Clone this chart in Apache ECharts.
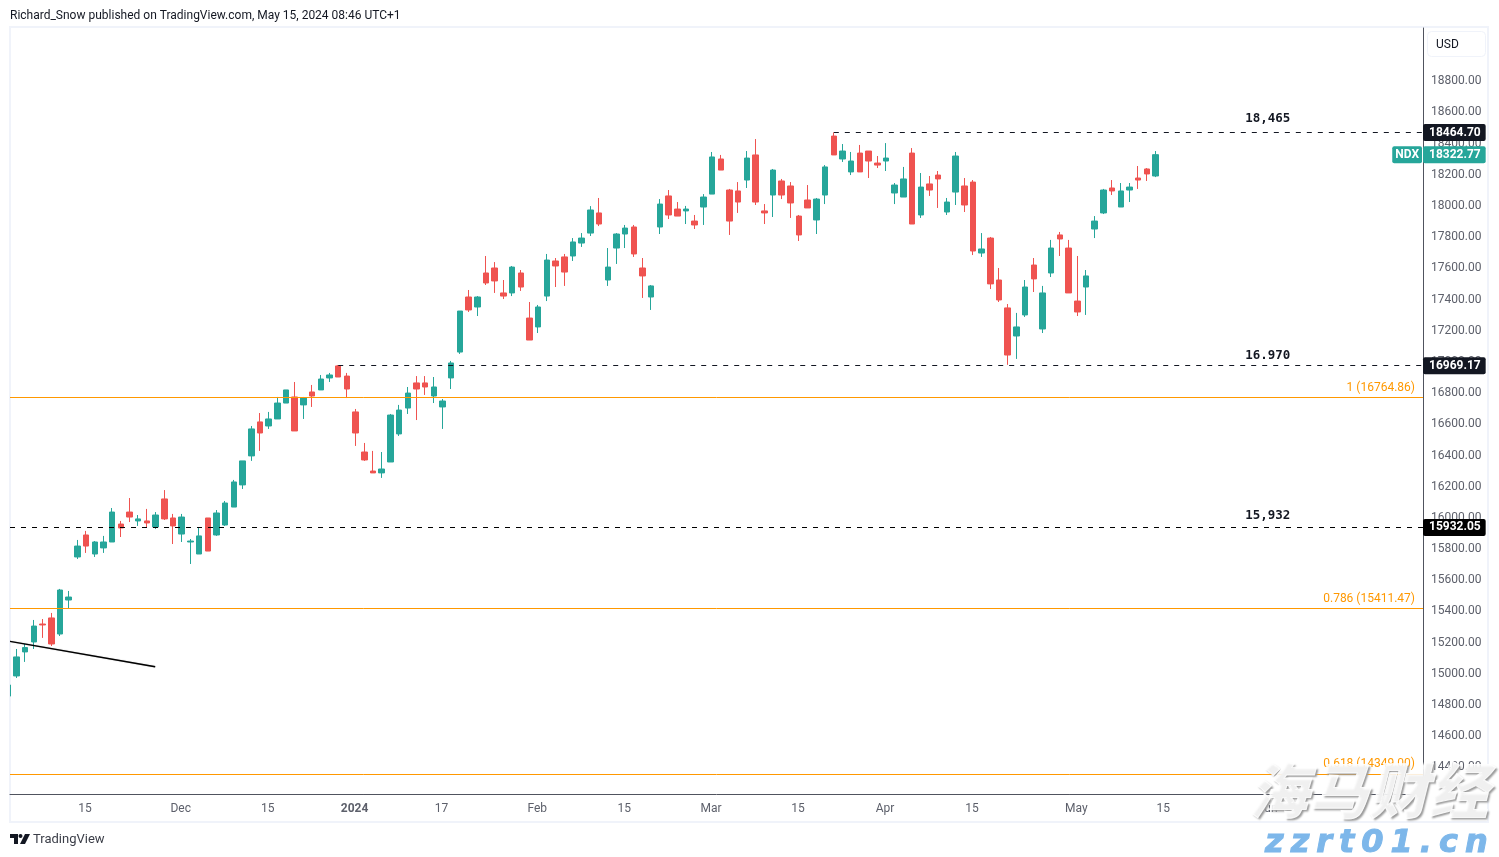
<!DOCTYPE html>
<html>
<head>
<meta charset="utf-8">
<title>NDX</title>
<script src="https://cdn.jsdelivr.net/npm/echarts@6/dist/echarts.min.js"></script>
<style>
    html, body { margin: 0; padding: 0; background: #fff; }
    #main { position: absolute; left: 0; top: 0; width: 1499px; height: 857px; }
    .wm { position: absolute; white-space: nowrap; }
    #wmCn { left: 1248px; top: 743px; font: italic 900 60px "Noto Sans CJK SC"; color: rgba(255,255,255,0.85); -webkit-text-stroke: 1px rgba(255,255,255,0.85); text-shadow: 2px 2px 2px #9a9a9a; }
    #wmEn { left: 1265px; top: 822px; font: italic 900 32px "DejaVu Sans"; letter-spacing: 7px; color: #7db7ea; -webkit-text-stroke: 1px #7db7ea; }
</style>
</head>
<body>
<div id="main"></div>
<div id="wmCn" class="wm">海马财经</div>
<div id="wmEn" class="wm">zzrt01.cn</div>
<script>
// daily candles, index = bar number from the left edge
var opens = [
    14851,14980,15134,15198,15313,15352,15249,15467,15743,15884,
    15762,15801,15839,15954,16031,15974,15974,15935,16115,15993,
    15890,15839,15762,15993,15884,15948,16063,16205,16391,16609,
    16583,16628,16730,16769,16718,16801,16814,16891,16968,16903,
    16673,16416,16294,16282,16352,16532,16698,16859,16859,16775,
    16705,16891,17057,17410,17346,17564,17596,17436,17436,17564,
    17275,17218,17416,17641,17667,17673,17756,17820,17949,17519,
    17724,17814,17859,17596,17410,17859,18058,17974,17962,17897,
    17987,18070,18295,18096,18090,18160,18321,17962,18064,18154,
    18122,17929,18032,17904,18064,18442,18295,18212,18333,18346,
    18269,18282,18077,18051,18333,17936,18135,18192,17955,18083,
    18122,18147,17692,17788,17519,17340,17160,17295,17615,17205,
    17564,17808,17724,17384,17474,17846,17949,18109,17987,18096,
    18173,18231,18186
];
var closes = [
    14922,15102,15162,15300,15307,15185,15531,15486,15813,15813,
    15839,15839,16031,15929,15999,15987,15961,16012,15987,15942,
    15999,15845,15878,15781,16025,16089,16224,16359,16564,16538,
    16628,16730,16814,16551,16762,16775,16884,16910,16897,16820,
    16538,16365,16282,16307,16653,16685,16794,16820,16833,16833,
    16743,16987,17320,17327,17410,17500,17513,17416,17602,17474,
    17134,17346,17647,17609,17570,17763,17788,17968,17878,17602,
    17814,17852,17686,17545,17481,18006,17936,17929,17974,17872,
    18051,18308,18224,17897,18019,18301,18019,17949,18224,18064,
    18013,17808,17981,18038,18244,18321,18346,18282,18212,18282,
    18256,18301,18128,18167,17878,18115,18096,18167,18019,18314,
    18000,17705,17718,17494,17391,17038,17218,17474,17526,17436,
    17724,17782,17436,17314,17545,17897,18096,18090,18090,18115,
    18160,18199,18322.77
];
var lows = [
    14851,14967,15070,15153,15224,15172,15236,15410,15730,15769,
    15743,15769,15839,15871,15967,15942,15929,15922,15980,15826,
    15839,15698,15762,15781,15878,15942,16063,16179,16359,16423,
    16564,16628,16730,16551,16628,16705,16814,16865,16897,16762,
    16455,16359,16282,16250,16352,16519,16660,16621,16782,16730,
    16564,16820,17045,17314,17288,17487,17436,17397,17416,17449,
    17134,17179,17384,17474,17481,17641,17731,17801,17865,17481,
    17622,17724,17667,17404,17327,17814,17910,17929,17878,17846,
    17872,18070,18224,17808,17949,18109,18000,17878,17923,18038,
    17917,17769,17981,17814,18006,18321,18276,18192,18212,18173,
    18237,18218,18006,18051,17878,17917,18058,17981,17936,18000,
    17955,17679,17667,17461,17378,16975,17013,17282,17442,17179,
    17538,17673,17436,17288,17295,17788,17942,18064,17987,18019,
    18103,18154,18179
];
var highs = [
    14922,15153,15185,15339,15345,15384,15538,15525,15852,15910,
    15845,15878,16057,15974,16121,16012,16051,16031,16172,16019,
    16019,15858,15935,15993,16044,16102,16237,16359,16583,16666,
    16673,16769,16814,16865,16769,16846,16910,16923,16974,16923,
    16692,16474,16423,16416,16660,16718,16833,16903,16903,16897,
    16756,17000,17320,17455,17416,17673,17634,17519,17609,17583,
    17378,17359,17686,17660,17686,17788,17820,17993,18045,17724,
    17820,17872,17872,17660,17487,18038,18096,18019,17994,17936,
    18070,18340,18321,18103,18147,18346,18423,18006,18231,18167,
    18147,17936,18128,18045,18256,18465,18391,18340,18385,18346,
    18314,18397,18141,18244,18365,18205,18186,18218,18045,18340,
    18173,18160,17820,17795,17596,17365,17308,17519,17660,17481,
    17776,17827,17776,17673,17583,17929,18103,18160,18141,18141,
    18250,18237,18346
];

// axis ticks
var yTicks = [14400,14600,14800,15000,15200,15400,15600,15800,16000,16200,16400,16600,16800,
    17000,17200,17400,17600,17800,18000,18200,18400,18600,18800];
var xTickBars = [9,20,30,40,50,61,71,81,91,101,111,123,133,145];
var xTickLabels = ['15','Dec','15','2024','17','Feb','15','Mar','15','Apr','15','May','15','Jun'];

// horizontal levels
var levelValues = [18464.70,16969.17,15932.05];
var levelStartBars = [95,38,null];
var levelNotes = ['18,465','16.970','15,932'];
var levelTagColors = ['#131722','#131722','#000000'];
var fibValues = [16764.86,15411.47,14349.00];
var fibLabels = ['1 (16764.86)','0.786 (15411.47)','0.618 (14349.00)'];

// trend line drawn by hand on the chart
var trendBars = [0.25,16.95];
var trendValues = [15202,15039];

var lastClose = 18322.77;

var xMin = 0.253, xMax = 162.76;
var yMin = 14223, yMax = 19135;
var noteBar = 144.9;
var noteGaps = [7,3,5.5];

var up = '#26a69a', down = '#ef5350', orange = '#ff9800', axisGray = '#50535e', textGray = '#5d606b';
var priceFont = 'Roboto';

var candles = [];
for (var i = 0; i < opens.length; i++) {
    candles.push([i, opens[i], closes[i], lows[i], highs[i]]);
}

function tagLabel(text, color) {
    return {
        show: true, position: 'end', distance: 0, formatter: text,
        color: '#fff', backgroundColor: color, borderRadius: 2,
        fontFamily: priceFont, fontSize: 12, fontWeight: 'bold',
        padding: [2, 5, 0, 6], height: 15, lineHeight: 15, align: 'left'
    };
}

var levelLines = levelValues.map(function (v, k) {
    var start = levelStartBars[k] === null ? xMin : levelStartBars[k];
    return [
        { coord: [start, v], label: tagLabel(v.toFixed(2), levelTagColors[k]),
          lineStyle: { color: levelTagColors[k], type: [5, 6], width: 1 } },
        { coord: [xMax, v] }
    ];
});
var fibLines = fibValues.map(function (v, k) {
    return {
        yAxis: v,
        lineStyle: { color: orange, type: 'solid', width: 1 },
        label: {
            show: true, position: 'insideEndTop', distance: 4, formatter: fibLabels[k],
            color: orange, fontFamily: priceFont, fontSize: 12, padding: [0, 4, 0, 0]
        }
    };
});
var closeLine = {
    yAxis: lastClose,
    lineStyle: { color: 'transparent', width: 0 },
    label: tagLabel(lastClose.toFixed(2), up)
};
var notePoints = levelValues.map(function (v, k) {
    return {
        coord: [noteBar, v], symbolSize: 0,
        label: {
            show: true, position: 'top', distance: noteGaps[k], formatter: levelNotes[k],
            color: '#131722', fontFamily: 'DejaVu Sans Mono', fontSize: 12.5, fontWeight: 'bold'
        }
    };
});
notePoints.push({
    coord: [xMax, lastClose], symbolSize: 0,
    label: {
        show: true, position: 'left', distance: 1, formatter: 'NDX',
        color: '#fff', backgroundColor: up, borderRadius: 2,
        fontFamily: priceFont, fontSize: 12, fontWeight: 'bold',
        padding: [2, 3, 0, 3], height: 15, lineHeight: 15, align: 'right'
    }
});

var myChart = echarts.init(document.getElementById('main'));
myChart.setOption({
    animation: false,
    backgroundColor: '#fff',
    title: {
        text: 'Richard_Snow published on TradingView.com, May 15, 2024 08:46 UTC+1',
        left: 10, top: 10, padding: 0,
        textStyle: { fontFamily: priceFont, fontSize: 12, fontWeight: 'normal', color: '#131722' }
    },
    grid: { left: 10, right: 76, top: 28, bottom: 63 },
    xAxis: {
        type: 'value', min: xMin, max: xMax, scale: true,
        axisLine: { onZero: false, lineStyle: { color: axisGray } },
        axisTick: { show: false },
        splitLine: { show: false },
        axisLabel: {
            customValues: xTickBars, margin: 8, color: textGray,
            fontFamily: priceFont, fontSize: 12, padding: [1, 2, 0, 0],
            formatter: function (v) {
                var t = xTickLabels[xTickBars.indexOf(v)];
                return t === '2024' ? '{b|' + t + '}' : t;
            },
            rich: { b: { fontFamily: priceFont, fontSize: 12, fontWeight: 'bold', color: textGray } }
        }
    },
    yAxis: {
        type: 'value', position: 'right', min: yMin, max: yMax, scale: true,
        axisLine: { show: true, lineStyle: { color: axisGray } },
        axisTick: { show: false },
        splitLine: { show: false },
        axisLabel: {
            customValues: yTicks, margin: 8, color: textGray,
            fontFamily: priceFont, fontSize: 12,
            formatter: function (v) { return '{p|' + v.toFixed(2) + '}'; },
            rich: { p: { fontFamily: priceFont, fontSize: 12, color: textGray, height: 14, lineHeight: 14, padding: [2, 0, 0, 0] } }
        }
    },
    graphic: [
        { type: 'rect', z: 0, shape: { x: 10, y: 27, width: 1478, height: 795 },
          style: { fill: 'none', stroke: '#f0f3fa', lineWidth: 2 } },
        // first bar is cut by the pane edge
        { type: 'rect', z: 5, shape: { x: 0, y: 600, width: 9, height: 150 }, style: { fill: '#fff' } },
        { type: 'rect', z: 5, shape: { x: 9, y: 600, width: 1, height: 150 }, style: { fill: '#f0f3fa' } },
        { type: 'rect', z: 0, shape: { x: 1427.5, y: 31.5, width: 58, height: 25, r: 4 },
          style: { fill: '#fff', stroke: '#f0f3fa', lineWidth: 1 } },
        { type: 'text', z: 1, x: 1436, y: 39,
          style: { text: 'USD', fontFamily: priceFont, fontSize: 12, fill: '#131722' } },
        // TradingView logo
        { type: 'polygon', shape: { points: [[10,834],[18,834],[18,844],[14,844],[14,838],[10,838]] }, style: { fill: '#131722' } },
        { type: 'circle', shape: { cx: 20.5, cy: 836, r: 2 }, style: { fill: '#131722' } },
        { type: 'polygon', shape: { points: [[25,834],[30,834],[25,844],[20,844]] }, style: { fill: '#131722' } },
        { type: 'text', x: 33, y: 833,
          style: { text: 'TradingView', fontFamily: priceFont, fontSize: 13, fill: '#3b3e48' } }
    ],
    series: [
        {
            name: 'NDX', type: 'candlestick', data: candles,
            encode: { x: 0, y: [1, 2, 3, 4] },
            barWidth: 6,
            itemStyle: { color: up, color0: down, borderColor: up, borderColor0: down, borderWidth: 1 },
            markLine: {
                silent: true, symbol: ['none', 'none'],
                data: levelLines.concat(fibLines).concat([closeLine])
            },
            markPoint: { silent: true, symbol: 'circle', data: notePoints }
        },
        {
            name: 'trend', type: 'line', silent: true, showSymbol: false,
            data: trendBars.map(function (x, k) { return [x, trendValues[k]]; }),
            lineStyle: { color: '#000', width: 1.3, shadowColor: 'rgba(0,0,0,0.35)', shadowBlur: 1 }
        }
    ]
});
</script>
</body>
</html>
